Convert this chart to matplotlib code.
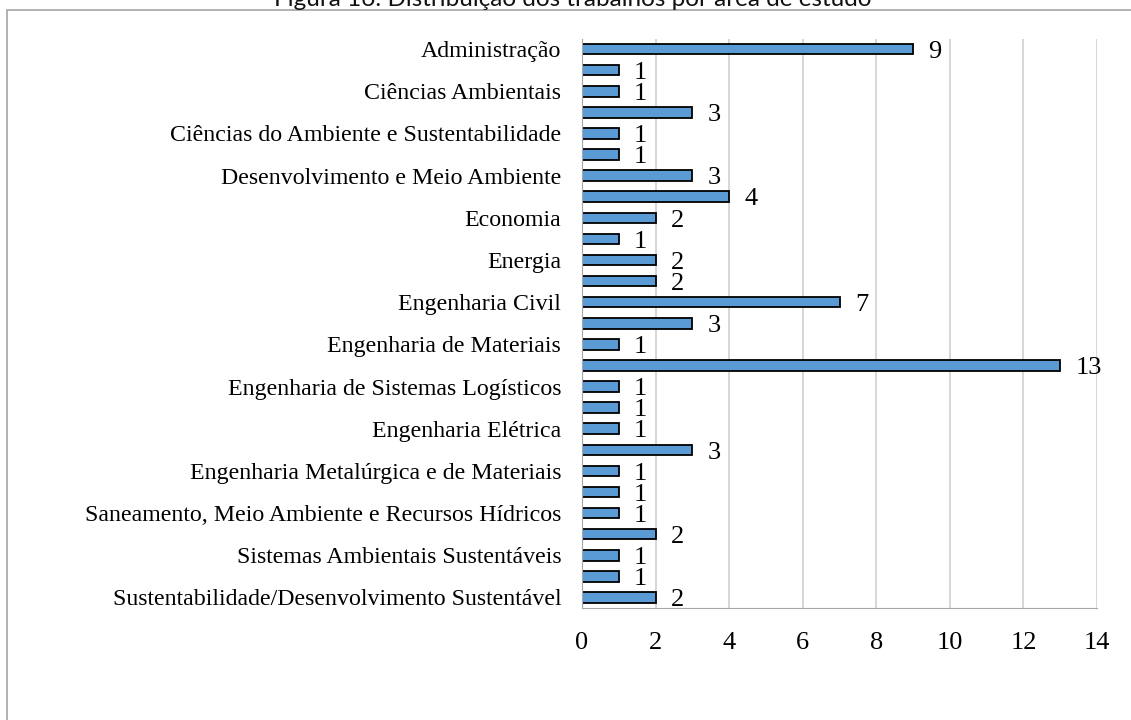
import matplotlib.pyplot as plt
from matplotlib.patches import Rectangle

# only every second category is labelled in the original figure
categories = [
    "Administração", "", "Ciências Ambientais", "",
    "Ciências do Ambiente e Sustentabilidade", "",
    "Desenvolvimento e Meio Ambiente", "", "Economia", "",
    "Energia", "", "Engenharia Civil", "", "Engenharia de Materiais", "",
    "Engenharia de Sistemas Logísticos", "", "Engenharia Elétrica", "",
    "Engenharia Metalúrgica e de Materiais", "",
    "Saneamento, Meio Ambiente e Recursos Hídricos", "",
    "Sistemas Ambientais Sustentáveis", "",
    "Sustentabilidade/Desenvolvimento Sustentável",
]
values = [9, 1, 1, 3, 1, 1, 3, 4, 2, 1, 2, 2, 7, 3, 1, 13,
          1, 1, 1, 3, 1, 1, 1, 2, 1, 1, 2]
xticks = [0, 2, 4, 6, 8, 10, 12, 14]
title = "Figura 16: Distribuição dos trabalhos por área de estudo"

serif = ["Liberation Serif", "DejaVu Serif"]

fig = plt.figure(figsize=(11.31, 7.2), dpi=100)
fig.patches.append(Rectangle((7 / 1131, -0.1), 1.2, 1.1 - 10 / 720,
                             transform=fig.transFigure, fill=False,
                             edgecolor="#a6a6a6", linewidth=1.2))
fig.text(573 / 1131, 1 - 6 / 720, title, ha="center", va="baseline",
         fontsize=17.5, family=["Lato", "DejaVu Sans"], color="#111111")

ax = fig.add_axes([582 / 1131, 1 - 608 / 720, (1097 - 582) / 1131, (608 - 38.5) / 720])
pos = list(range(len(values)))
ax.barh(pos, values, height=0.5, color="#5b9bd5", edgecolor="black",
        linewidth=1.3, zorder=3)
for y, v in zip(pos, values):
    ax.annotate(str(v), (v, y), xytext=(11, -2), textcoords="offset points",
                ha="left", va="center", fontsize=19, family=serif)

ax.set_ylim(len(values) - 0.5, -0.5)
ax.set_xlim(0, 14)
ax.set_xticks(xticks)
ax.set_yticks(pos)
ax.set_yticklabels(categories, family=serif, fontsize=17.2)
for lab in ax.get_xticklabels():
    lab.set_family(serif)
    lab.set_fontsize(19)
ax.tick_params(axis="x", length=0, pad=17)
ax.tick_params(axis="y", length=0, pad=15)
ax.grid(axis="x", color="#d0d0d0", linewidth=1.2, zorder=0)
for side in ["top", "right"]:
    ax.spines[side].set_visible(False)
ax.spines["left"].set_color("#a6a6a6")
ax.spines["bottom"].set_color("#a6a6a6")
ax.spines["left"].set_zorder(4)

fig.savefig("out.png", dpi=100)
